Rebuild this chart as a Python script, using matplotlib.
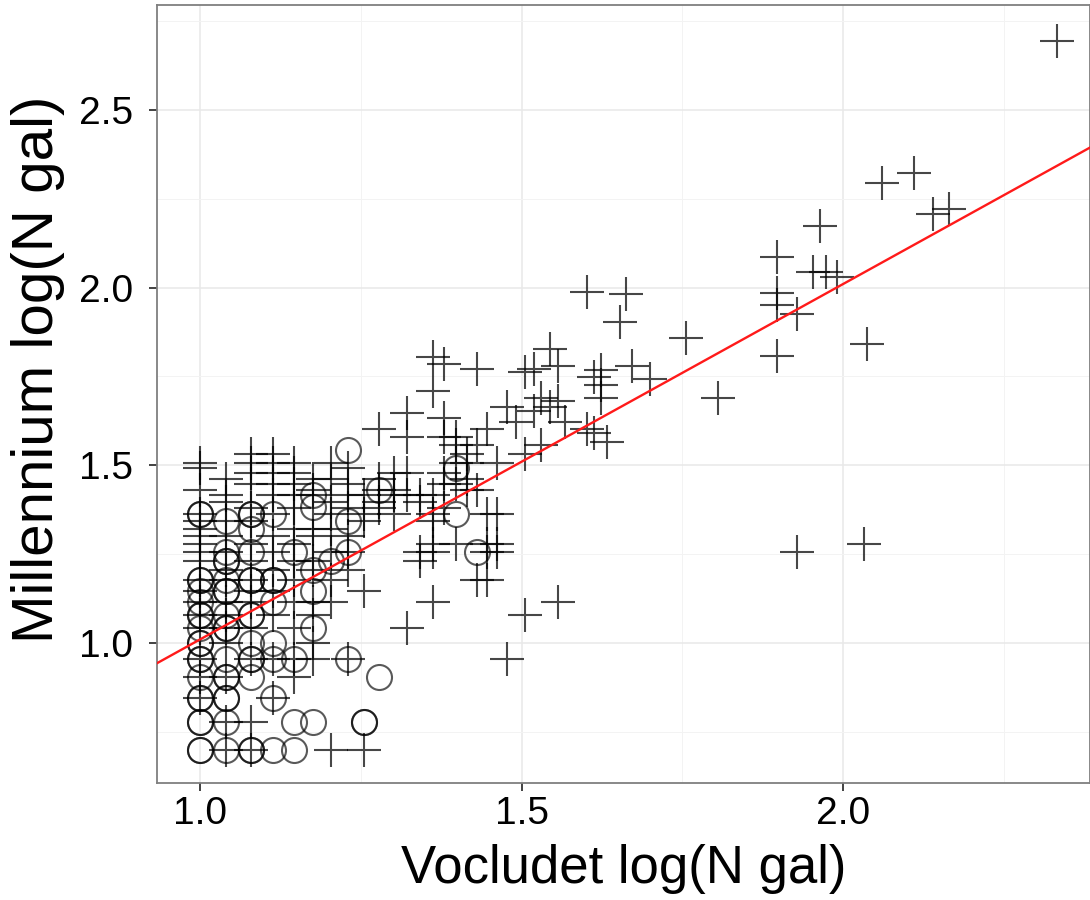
import matplotlib
matplotlib.use("Agg")
import matplotlib.pyplot as plt
from matplotlib.ticker import MultipleLocator

plt.rcParams['font.family'] = ['Liberation Sans', 'DejaVu Sans']

# ---- data (log10 galaxy counts) ----
cross_low_x = ([1.000] * 18 + [1.041] * 15 + [1.079] * 15 + [1.114] * 13 +
               [1.146] * 13 + [1.176] * 11 + [1.204] * 9 + [1.230] * 8 + [1.255] * 5)
cross_low_y = [1.505, 1.491, 1.431, 1.362, 1.342, 1.322, 1.301, 1.279, 1.255, 1.230, 1.176, 1.146, 1.114, 1.079, 1.041, 0.954, 0.903, 0.845,
               1.462, 1.415, 1.398, 1.342, 1.301, 1.255, 1.204, 1.176, 1.114, 1.079, 1.041, 1.000, 0.903, 0.778, 0.699,
               1.531, 1.505, 1.477, 1.447, 1.380, 1.342, 1.279, 1.230, 1.176, 1.146, 1.114, 1.041, 0.954, 0.778, 0.699,
               1.531, 1.505, 1.477, 1.447, 1.415, 1.362, 1.301, 1.255, 1.204, 1.146, 1.079, 0.954, 0.845,
               1.505, 1.477, 1.447, 1.415, 1.380, 1.322, 1.279, 1.230, 1.176, 1.114, 1.041, 0.954, 0.903,
               1.462, 1.431, 1.415, 1.322, 1.301, 1.230, 1.204, 1.114, 1.079, 1.000, 0.954,
               1.505, 1.462, 1.398, 1.362, 1.322, 1.255, 1.176, 1.114, 0.699,
               1.491, 1.447, 1.415, 1.380, 1.301, 1.255, 1.204, 0.954,
               1.415, 1.362, 1.342, 1.146, 0.699]

cross_mid_x = ([1.279] * 5 + [1.301] * 4 + [1.322] * 5 + [1.342] * 4 + [1.362] * 8 +
               [1.380] * 6 + [1.398] * 5 + [1.415] * 4 + [1.431] * 4 + [1.447] * 5 +
               [1.462] * 4 + [1.477] * 2 + [1.491] * 1)
cross_mid_y = [1.602, 1.462, 1.431, 1.398, 1.380,
               1.477, 1.431, 1.415, 1.362,
               1.646, 1.580, 1.477, 1.415, 1.041,
               1.415, 1.398, 1.255, 1.230,
               1.806, 1.708, 1.415, 1.362, 1.342, 1.279, 1.255, 1.114,
               1.785, 1.633, 1.580, 1.477, 1.447, 1.380,
               1.580, 1.556, 1.505, 1.447, 1.279,
               1.531, 1.505, 1.462, 1.431,
               1.771, 1.556, 1.431, 1.176,
               1.602, 1.362, 1.279, 1.255, 1.176,
               1.505, 1.362, 1.279, 1.255,
               1.663, 0.954,
               1.623]

cross_high_x = [1.505, 1.505, 1.505, 1.519, 1.519, 1.531, 1.531, 1.544, 1.544, 1.556, 1.556, 1.556,
                1.568, 1.602, 1.602, 1.613, 1.613, 1.623, 1.623, 1.623, 1.633, 1.653, 1.663, 1.672,
                1.699, 1.756, 1.806, 1.897, 1.897, 1.897, 1.897, 1.928, 1.928, 1.954, 1.964, 1.973,
                1.991, 2.033, 2.037, 2.061, 2.111, 2.140, 2.164, 2.332]
cross_high_y = [1.763, 1.531, 1.079, 1.771, 1.653, 1.556, 1.690, 1.826, 1.663, 1.778, 1.681, 1.114,
                1.623, 1.987, 1.602, 1.748, 1.591, 1.768, 1.726, 1.690, 1.565, 1.903, 1.982, 1.779,
                1.743, 1.858, 1.689, 2.086, 1.985, 1.951, 1.807, 1.925, 1.255, 2.044, 2.173, 2.044,
                2.030, 1.278, 1.841, 2.294, 2.322, 2.207, 2.221, 2.693]

circle_x = [1.000, 1.000, 1.000, 1.000, 1.000, 1.000, 1.000, 1.000, 1.000, 1.000, 1.000, 1.000, 1.000,
            1.000, 1.000, 1.000, 1.000, 1.000, 1.000, 1.000,
            1.041, 1.041, 1.041, 1.041, 1.041, 1.041, 1.041, 1.041, 1.041, 1.041, 1.041, 1.041,
            1.041, 1.041, 1.041, 1.041, 1.041,
            1.079, 1.079, 1.079, 1.079, 1.079, 1.079, 1.079, 1.079, 1.079, 1.079, 1.079, 1.079,
            1.079, 1.079,
            1.114, 1.114, 1.114, 1.114, 1.114, 1.114, 1.114, 1.114,
            1.146, 1.146, 1.146, 1.146,
            1.176, 1.176, 1.176, 1.176, 1.176, 1.176,
            1.204, 1.230, 1.230, 1.230, 1.230, 1.255, 1.255, 1.279, 1.279,
            1.398, 1.398, 1.431]
circle_y = [0.699, 0.699, 0.778, 0.778, 0.845, 0.845, 0.903, 0.954, 0.954, 1.000, 1.000, 1.041, 1.079,
            1.079, 1.114, 1.146, 1.176, 1.176, 1.362, 1.362,
            0.699, 0.778, 0.845, 0.845, 0.903, 0.903, 0.954, 1.041, 1.041, 1.079, 1.146, 1.146,
            1.176, 1.230, 1.230, 1.255, 1.342,
            0.699, 0.699, 0.903, 0.954, 0.954, 1.000, 1.079, 1.079, 1.176, 1.176, 1.255, 1.322,
            1.362, 1.362,
            0.699, 0.845, 0.954, 1.000, 1.114, 1.176, 1.176, 1.362,
            0.699, 0.778, 0.954, 1.255,
            0.778, 1.041, 1.146, 1.204, 1.383, 1.415,
            1.230, 0.954, 1.255, 1.342, 1.544, 0.778, 0.778, 0.903, 1.431,
            1.362, 1.491, 1.255]

fit_slope = 1.0
fit_intercept = 0.01

x_ticks = [1.0, 1.5, 2.0]
y_ticks = [1.0, 1.5, 2.0, 2.5]
x_label = "Vocludet log(N gal)"
y_label = "Millennium log(N gal)"

# ---- figure ----
fig = plt.figure(figsize=(10.9, 9.0), dpi=100)
ax = fig.add_axes([0.144, 0.13, 0.856, 0.8644])
xlim = (0.933, 2.384)
ylim = (0.606, 2.795)
ax.set_xlim(*xlim)
ax.set_ylim(*ylim)

ax.set_axisbelow(True)
ax.xaxis.set_major_locator(MultipleLocator(0.5))
ax.yaxis.set_major_locator(MultipleLocator(0.5))
ax.xaxis.set_minor_locator(MultipleLocator(0.25))
ax.yaxis.set_minor_locator(MultipleLocator(0.25))
ax.grid(which='major', color='#e8e8e8', lw=1.1)
ax.grid(which='minor', color='#f3f3f3', lw=0.7)
ax.tick_params(which='minor', length=0)

cross_kw = dict(marker='+', linestyle='none', markersize=24, markeredgewidth=1.5,
                color='black', alpha=0.72)
ax.plot(cross_low_x, cross_low_y, **cross_kw)
ax.plot(cross_mid_x, cross_mid_y, **cross_kw)
ax.plot(cross_high_x, cross_high_y, **cross_kw)
ax.plot(circle_x, circle_y, marker='o', linestyle='none', markersize=18,
        markerfacecolor='none', markeredgecolor='black', markeredgewidth=1.5, alpha=0.65)

xs = list(xlim)
ax.plot(xs, [fit_slope * v + fit_intercept for v in xs], color='#ff1a1a', lw=1.7, zorder=5)

ax.set_xticks(x_ticks)
ax.set_yticks(y_ticks)
ax.set_xticklabels([f"{v:.1f}" for v in x_ticks])
ax.set_yticklabels([f"{v:.1f}" for v in y_ticks])
ax.tick_params(which='major', direction='out', length=6, width=1.3, color='#333333',
               labelsize=28, labelcolor='black')
ax.tick_params(axis='x', pad=3)
ax.tick_params(axis='y', pad=11)

for s in ax.spines.values():
    s.set_color('#7f7f7f')
    s.set_linewidth(1.3)

ax.set_xlabel(x_label, fontsize=38)
ax.set_ylabel(y_label, fontsize=42)
ax.xaxis.set_label_coords(0.5, -0.078)
ax.yaxis.set_label_coords(-0.099, 0.532)

fig.savefig("out.png", dpi=100)
